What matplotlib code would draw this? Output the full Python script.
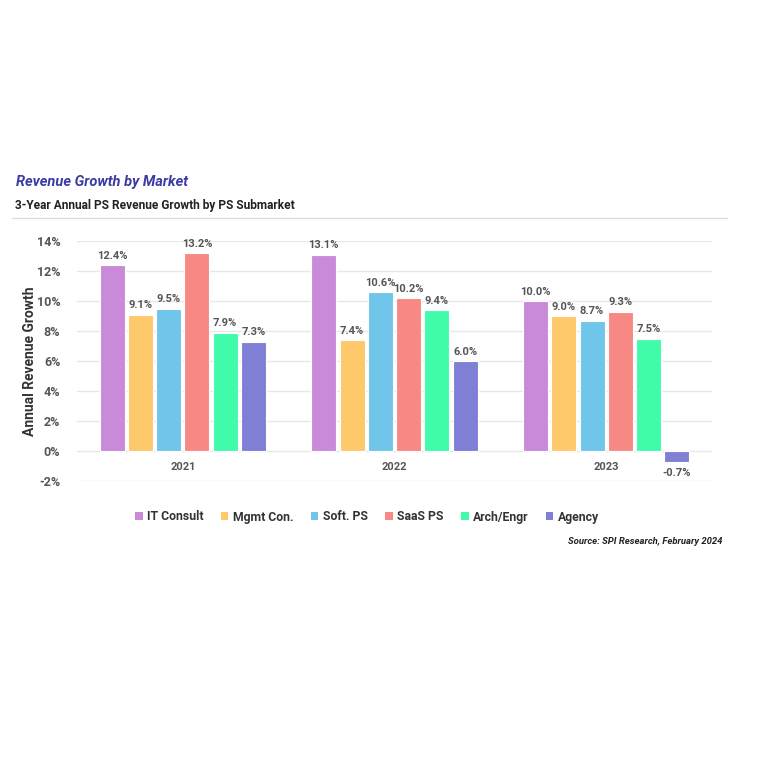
import matplotlib
matplotlib.use("Agg")
import matplotlib.pyplot as plt
import numpy as np
from matplotlib.patches import Patch

years = ["2021", "2022", "2023"]
series = ["IT Consult", "Mgmt Con.", "Soft. PS", "SaaS PS", "Arch/Engr", "Agency"]
it_consult = [12.4, 13.1, 10.0]
mgmt_con = [9.1, 7.4, 9.0]
soft_ps = [9.5, 10.6, 8.7]
saas_ps = [13.2, 10.2, 9.3]
arch_engr = [7.9, 9.4, 7.5]
agency = [7.3, 6.0, -0.7]
values = [it_consult, mgmt_con, soft_ps, saas_ps, arch_engr, agency]
colors = ["#c98bd9", "#fec96b", "#6fc6ea", "#f88884", "#40fcaa", "#7f7fd6"]
y_ticks = [-2, 0, 2, 4, 6, 8, 10, 12, 14]

FONT = ["Roboto", "DejaVu Sans"]
NUM = ["Roboto", "DejaVu Sans"]

fig = plt.figure(figsize=(7.68, 7.68), dpi=100)
ax = fig.add_axes([77/768, 1-481/768, (712-77)/768, 240/768])

x = np.arange(len(years))
step = 0.1335
width = 0.118
for i, (vals, c) in enumerate(zip(values, colors)):
    pos = x + (i - 2.5) * step
    ax.bar(pos, vals, width=width, color=c, edgecolor="white", linewidth=0.8, zorder=3)
    for p, v in zip(pos, vals):
        if v >= 0:
            ax.annotate(f"{v:.1f}%", (p, v), xytext=(0, 3), textcoords="offset points",
                        ha="center", va="bottom", fontsize=8, fontweight="bold",
                        color="#555555", family=NUM)
        else:
            ax.annotate(f"{v:.1f}%", (p, v), xytext=(0, -5), textcoords="offset points",
                        ha="center", va="top", fontsize=8, fontweight="bold",
                        color="#555555", family=NUM)

for xi, yr in zip(x, years):
    ax.annotate(yr, (xi, 0), xytext=(0, -8), textcoords="offset points",
                ha="center", va="top", fontsize=8, fontweight="bold",
                color="#555555", family=NUM)

ax.set_xlim(-0.5, 2.5)
ax.set_ylim(-2, 14)
ax.set_yticks(y_ticks)
ax.set_yticklabels([f"{t}%" for t in y_ticks], fontsize=9, fontweight="bold",
                   color="#555555", family=NUM)
ax.set_xticks([])
ax.tick_params(axis="y", length=0, pad=12)
ax.yaxis.grid(True, color="#e8e8e8", linewidth=1, zorder=0)
for s in ax.spines.values():
    s.set_visible(False)
ax.set_ylabel("Annual Revenue Growth", fontsize=10, fontweight="bold", color="#333333",
              family=NUM, labelpad=0)

fig.text(16/768, 1-182/768, "Revenue Growth by Market", fontsize=10.5, fontweight="bold",
         style="italic", color="#3b3ba3", family=NUM, va="center", ha="left")
fig.text(15/768, 1-206/768, "3-Year Annual PS Revenue Growth by PS Submarket", fontsize=8.6,
         fontweight="bold", color="#222222", family=FONT, va="center", ha="left")
fig.add_artist(plt.Line2D([12/768, 727/768], [1-218/768, 1-218/768], color="#dddddd",
                          linewidth=1, transform=fig.transFigure))

handles = [Patch(facecolor=c, edgecolor="none") for c in colors]
fig.legend(handles, series, loc="center", bbox_to_anchor=(367/768, 1-517/768),
           ncol=6, frameon=False, handlelength=0.6, handleheight=0.6, handletextpad=0.35,
           columnspacing=1.45, prop={"family": FONT, "weight": "bold", "size": 8.8},
           labelcolor="#333333")

fig.text(722/768, 1-541/768, "Source: SPI Research, February 2024", fontsize=6.8,
         fontweight="bold", style="italic", color="#222222", family=FONT,
         ha="right", va="center")

fig.savefig("out.png", dpi=100, facecolor="white")
